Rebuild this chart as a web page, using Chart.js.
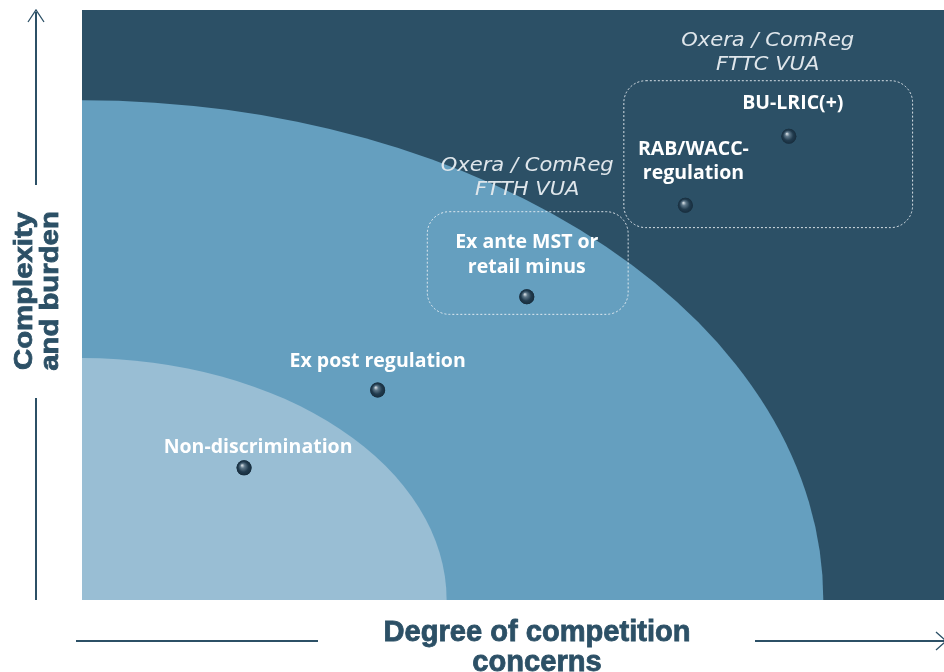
<!DOCTYPE html>
<html><head><meta charset="utf-8">
<script src="https://cdn.jsdelivr.net/npm/chart.js@4.4.1/dist/chart.umd.min.js"></script>
<style>html,body{margin:0;padding:0;background:#fff}#wrap{width:944px;height:672px}</style>
</head><body><div id="wrap"><canvas id="c" width="944" height="672"></canvas></div>
<script>
// Approaches (points) — x: degree of competition concerns, y: complexity and burden (0-100)
const approaches = ["Non-discrimination", "Ex post regulation", "Ex ante MST or|retail minus", "RAB/WACC-|regulation", "BU-LRIC(+)"];
const competitionX = [18.8, 34.3, 51.6, 70.0, 82.0];
const complexityY = [22.4, 35.6, 51.4, 66.9, 78.6];

// Zones: quarter ellipses anchored at origin (radius x, radius y)
const zoneNames = ["Medium", "Low"];
const zoneRadiusX = [86.0, 42.3];
const zoneRadiusY = [84.7, 41.0];

// Study groupings (dotted boxes): x range, y range
const groupTitles = ["Oxera / ComReg|FTTC VUA", "Oxera / ComReg|FTTH VUA"];
const groupX0 = [62.8, 40.0];
const groupX1 = [96.3, 63.3];
const groupY0 = [63.2, 48.5];
const groupY1 = [88.1, 65.9];

const axisXTitle = ["Degree of competition", "concerns"];
const axisYTitle = ["Complexity", "and burden"];

// styles
const DARK = '#2c5066', MID = '#659fbf', LIGHT = '#99bed4';
const labelOffsets = [[14,-20],[0,-29],[0,-54],[8,-56],[4,-33]];
const groupTitleOffsets = [[0,-39],[0,-45]];

function fitText(ctx, text, x, y, width, stroke) {
  const w = ctx.measureText(text).width;
  ctx.save();
  ctx.translate(x, y);
  ctx.scale(width / w, 1);
  ctx.fillText(text, 0, 0);
  if (stroke) ctx.strokeText(text, 0, 0);
  ctx.restore();
}

const bgPlugin = {
  id: 'bg',
  beforeDatasetsDraw(chart) {
    const {ctx, chartArea: a, scales: {x, y}} = chart;
    ctx.save();
    ctx.fillStyle = DARK;
    ctx.fillRect(a.left, a.top, a.right - a.left, a.bottom - a.top);
    ctx.beginPath(); ctx.rect(a.left, a.top, a.right - a.left, a.bottom - a.top); ctx.clip();
    const cols = [MID, LIGHT];
    const ox = x.getPixelForValue(0), oy = y.getPixelForValue(0);
    zoneNames.forEach((n, i) => {
      const rx = x.getPixelForValue(zoneRadiusX[i]) - ox;
      const ry = oy - y.getPixelForValue(zoneRadiusY[i]);
      ctx.beginPath();
      ctx.ellipse(ox, oy, rx, ry, 0, 0, Math.PI * 2);
      ctx.fillStyle = cols[i];
      ctx.fill();
    });
    // dotted boxes
    ctx.strokeStyle = 'rgba(235,240,244,0.9)';
    ctx.lineWidth = 1;
    groupTitles.forEach((t, i) => {
      const x0 = x.getPixelForValue(groupX0[i]), x1 = x.getPixelForValue(groupX1[i]);
      const y0 = y.getPixelForValue(groupY1[i]), y1 = y.getPixelForValue(groupY0[i]);
      ctx.setLineDash([2, 2]);
      ctx.beginPath();
      ctx.roundRect(x0 + 0.5, y0 + 0.5, x1 - x0, y1 - y0, 22);
      ctx.stroke();
      ctx.setLineDash([]);
      const lines = t.split('|');
      ctx.fillStyle = '#dfe6eb';
      ctx.font = 'italic 300 20px "DejaVu Sans", sans-serif';
      ctx.textAlign = 'center'; ctx.textBaseline = 'middle';
      const cx = (x0 + x1) / 2 + groupTitleOffsets[i][0];
      const cy = y0 + groupTitleOffsets[i][1];
      lines.forEach((l, k) => fitText(ctx, l, cx, cy + k * 24, ctx.measureText(l).width * 173 / ctx.measureText(lines[0]).width));
    });
    ctx.restore();
  },
  afterDatasetsDraw(chart) {
    const {ctx} = chart;
    const meta = chart.getDatasetMeta(0);
    ctx.save();
    meta.data.forEach((pt, i) => {
      // sphere highlight
      const g = ctx.createRadialGradient(pt.x - 2, pt.y - 2.5, 0.5, pt.x, pt.y, 7.5);
      g.addColorStop(0, '#c9d3da');
      g.addColorStop(0.25, '#5d7688');
      g.addColorStop(0.65, '#213b4e');
      g.addColorStop(1, '#172d3d');
      ctx.beginPath(); ctx.arc(pt.x, pt.y, 7.5, 0, Math.PI * 2);
      ctx.fillStyle = g; ctx.fill();
      // label
      ctx.fillStyle = '#ffffff';
      ctx.font = 'bold 19.5px "Open Sans", sans-serif';
      ctx.textAlign = 'center'; ctx.textBaseline = 'middle';
      const lines = approaches[i].split('|');
      const [dx, dy] = labelOffsets[i];
      lines.forEach((l, k) => ctx.fillText(l, pt.x + dx, pt.y + dy + k * 24.5));
    });
    // axes
    ctx.strokeStyle = DARK; ctx.fillStyle = DARK; ctx.lineWidth = 2;
    ctx.beginPath();
    ctx.moveTo(36, 12); ctx.lineTo(36, 185);
    ctx.moveTo(36, 398); ctx.lineTo(36, 600);
    ctx.moveTo(76, 641); ctx.lineTo(318, 641);
    ctx.moveTo(755, 641); ctx.lineTo(944, 641);
    ctx.stroke();
    ctx.lineWidth = 1.3;
    ctx.beginPath();
    ctx.moveTo(28, 22); ctx.lineTo(36, 10); ctx.lineTo(44, 22);
    ctx.moveTo(936, 632); ctx.lineTo(946, 641); ctx.lineTo(936, 650);
    ctx.stroke();
    ctx.lineWidth = 0.8;
    ctx.font = 'bold 29px "Liberation Sans", Arial, sans-serif';
    ctx.textAlign = 'center'; ctx.textBaseline = 'middle';
    fitText(ctx, axisXTitle[0], 537, 633, 307, true);
    fitText(ctx, axisXTitle[1], 537, 663, 307 * ctx.measureText(axisXTitle[1]).width / ctx.measureText(axisXTitle[0]).width, true);
    ctx.save();
    ctx.translate(25, 291); ctx.rotate(-Math.PI / 2);
    ctx.font = 'bold 26px "Liberation Sans", Arial, sans-serif';
    fitText(ctx, axisYTitle[0], 0, 0, 158, true);
    fitText(ctx, axisYTitle[1], 0, 26, 158 * ctx.measureText(axisYTitle[1]).width / ctx.measureText(axisYTitle[0]).width, true);
    ctx.restore();
    ctx.restore();
  }
};

new Chart(document.getElementById('c'), {
  type: 'scatter',
  data: {
    datasets: [{
      label: 'Approaches',
      data: competitionX.map((v, i) => ({x: v, y: complexityY[i]})),
      pointRadius: 7.5,
      pointHoverRadius: 7.5,
      backgroundColor: '#1f3a4d',
      borderWidth: 0
    }]
  },
  options: {
    responsive: false,
    animation: false,
    events: [],
    layout: {autoPadding: false, padding: {left: 82, top: 10, right: 0, bottom: 72}},
    plugins: {legend: {display: false}, tooltip: {enabled: false}},
    scales: {
      x: {type: 'linear', min: 0, max: 100, display: false},
      y: {type: 'linear', min: 0, max: 100, display: false}
    }
  },
  plugins: [bgPlugin]
});
</script>
</body></html>
